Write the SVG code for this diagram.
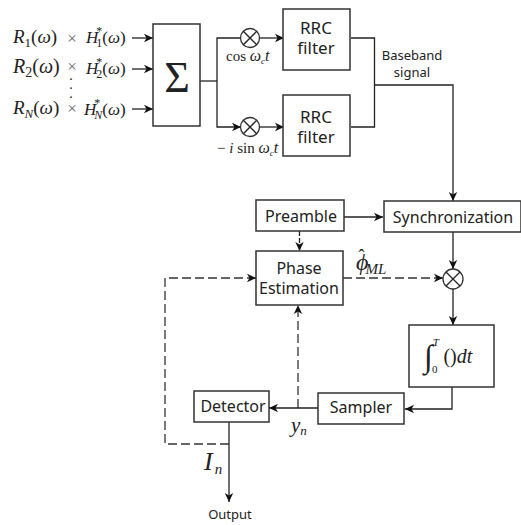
<svg xmlns="http://www.w3.org/2000/svg" width="521" height="525" viewBox="0 0 521 525">
<defs>
<marker id="a" markerUnits="userSpaceOnUse" markerWidth="12" markerHeight="12" refX="9" refY="6" orient="auto"><path d="M0 1.800L9 6L0 10.200L2.500 6Z" fill="#111"/></marker>
</defs>
<style>
.b{fill:#fff;stroke:#333;stroke-width:1.5}
.c{fill:none;stroke:#222;stroke-width:1.3}
.d{fill:none;stroke:#333;stroke-width:1.3;stroke-dasharray:9 4}
.s{font-family:"Noto Sans","Open Sans",sans-serif;fill:#222;text-anchor:middle}
.m{font-family:"Liberation Serif",serif;fill:#222;font-style:italic}
.u{font-family:"Liberation Serif",serif;fill:#222}
.x{font-family:"Liberation Serif",serif;fill:#666;font-size:17px;text-anchor:middle}
.mx{fill:#fff;stroke:#333;stroke-width:1.3}
.n{font-style:normal}
</style>
<g id="connectors">
<path class="c" d="M132 38H153" marker-end="url(#a)"/>
<path class="c" d="M132 69H153" marker-end="url(#a)"/>
<path class="c" d="M132 109H153" marker-end="url(#a)"/>
<path class="c" d="M200 81H217"/>
<path class="c" d="M241 38H217V127H241" marker-end="url(#a)"/>
<path class="c" d="M260 38H284" marker-end="url(#a)"/>
<path class="c" d="M260 127H284" marker-end="url(#a)"/>
<path class="c" d="M351 38H374.500V127H351"/>
<path class="c" d="M374.500 85H453V201" marker-end="url(#a)"/>
<path class="c" d="M344 217H383" marker-end="url(#a)"/>
<path class="c" d="M299.500 231V251" marker-end="url(#a)" stroke-dasharray="5 2"/>
<path class="d" d="M343 278H443" marker-end="url(#a)"/>
<path class="c" d="M453 232V269" marker-end="url(#a)"/>
<path class="c" d="M453 289V325" marker-end="url(#a)"/>
<path class="d" d="M298 408V305" marker-end="url(#a)"/>
<path class="c" d="M452 387V409H405" marker-end="url(#a)"/>
<path class="c" d="M318 408H269" marker-end="url(#a)"/>
<path class="d" d="M229 444H165V278H256" marker-end="url(#a)"/>
<path class="c" d="M229 422V502" marker-end="url(#a)"/>
</g>
<g id="input-labels">
<text class="m" x="13" y="43" font-size="19">R<tspan class="n" font-size="13" dy="4">1</tspan><tspan class="n" dy="-4">(</tspan>ω<tspan class="n">)</tspan></text>
<text class="x" x="72" y="44">×</text>
<text class="m" x="86" y="43" font-size="17">H<tspan class="n" font-size="12" dx="-2" dy="-8">*</tspan><tspan class="n" font-size="12" dx="-6" dy="12">1</tspan><tspan class="n" dy="-4">(</tspan>ω<tspan class="n">)</tspan></text>
<text class="m" x="13" y="73" font-size="20">R<tspan class="n" font-size="14" dy="4">2</tspan><tspan class="n" dy="-4">(</tspan>ω<tspan class="n">)</tspan></text>
<text class="x" x="72" y="72">×</text>
<text class="m" x="86" y="74" font-size="17">H<tspan class="n" font-size="12" dx="-2" dy="-8">*</tspan><tspan class="n" font-size="12" dx="-6" dy="12">2</tspan><tspan class="n" dy="-4">(</tspan>ω<tspan class="n">)</tspan></text>
<text x="71" y="98" font-family="Liberation Serif, serif" font-size="14" fill="#222" text-anchor="middle">.<tspan x="71" dy="-9">.</tspan><tspan x="71" dy="-9">.</tspan></text>
<text class="m" x="13" y="114" font-size="19">R<tspan font-size="13" dy="4">N</tspan><tspan class="n" dy="-4">(</tspan>ω<tspan class="n">)</tspan></text>
<text class="x" x="72" y="114">×</text>
<text class="m" x="84" y="115" font-size="17">H<tspan class="n" font-size="12" dx="-2" dy="-8">*</tspan><tspan font-size="12" dx="-6" dy="12">N</tspan><tspan class="n" dy="-4">(</tspan>ω<tspan class="n">)</tspan></text>
</g>
<g id="sum"><rect class="b" x="153" y="24" width="47" height="102"/><text class="u" x="177" y="92" font-size="44" text-anchor="middle">Σ</text></g>
<g id="mixer-cos"><circle class="mx" cx="250" cy="38" r="9.500"/><path class="c" d="M243.300 31.300L256.700 44.700M256.700 31.300L243.300 44.700"/></g>
<g id="mixer-sin"><circle class="mx" cx="250" cy="127" r="9.500"/><path class="c" d="M243.300 120.300L256.700 133.700M256.700 120.300L243.300 133.700"/></g>
<g id="cos-label"><text class="u" x="226" y="61" font-size="15">cos <tspan class="m" font-size="16">ω</tspan><tspan class="m" font-size="9" dy="3">c</tspan><tspan class="m" font-size="16" dy="-3">t</tspan></text></g>
<g id="sin-label"><text class="u" x="217" y="153" font-size="15">− <tspan class="m">i</tspan> sin <tspan class="m" font-size="16">ω</tspan><tspan class="m" font-size="9" dy="3">c</tspan><tspan class="m" font-size="16" dy="-3">t</tspan></text></g>
<g id="rrc1"><rect class="b" x="283" y="9" width="67" height="61"/><text class="s" x="316" y="34" font-size="17">RRC</text><text class="s" x="316" y="54" font-size="17">filter</text></g>
<g id="rrc2"><rect class="b" x="283" y="95" width="67" height="61"/><text class="s" x="316" y="123" font-size="17">RRC</text><text class="s" x="316" y="143" font-size="17">filter</text></g>
<g id="baseband"><text class="s" x="412" y="60" font-size="13">Baseband</text><text class="s" x="412" y="77" font-size="13">signal</text></g>
<g id="preamble"><rect class="b" x="256" y="200" width="88" height="31"/><text class="s" x="301" y="222" font-size="16">Preamble</text></g>
<g id="sync"><rect class="b" x="384" y="201" width="137" height="31"/><text class="s" x="453" y="223" font-size="16">Synchronization</text></g>
<g id="phase"><rect class="b" x="256" y="251" width="87" height="54"/><text class="s" x="299" y="274" font-size="16">Phase</text><text class="s" x="299" y="294" font-size="16">Estimation</text></g>
<g id="phi"><text class="m" x="356" y="270" font-size="24">ϕ<tspan class="n" font-size="18" dx="-10" dy="-8">ˆ</tspan><tspan font-size="15" dx="1" dy="12">ML</tspan></text></g>
<g id="mixer-rx"><circle class="mx" cx="453" cy="279" r="10"/><path class="c" d="M446 272L460 286M460 272L446 286"/></g>
<g id="integrator"><rect class="b" x="409" y="325" width="85" height="62"/><text class="m" x="424" y="367" font-size="32">∫<tspan font-size="11" dy="-21">T</tspan><tspan class="n" font-size="11" dx="-7" dy="27">0</tspan><tspan class="n" font-size="20" dx="6" dy="-10">()</tspan><tspan font-size="20">dt</tspan></text></g>
<g id="sampler"><rect class="b" x="318" y="393" width="86" height="31"/><text class="s" x="361" y="413" font-size="16">Sampler</text></g>
<g id="detector"><rect class="b" x="194" y="391" width="75" height="31"/><text class="s" x="233" y="412" font-size="16">Detector</text></g>
<g id="yn"><text class="m" x="291" y="432" font-size="21">y<tspan font-size="13" dy="3">n</tspan></text></g>
<g id="in"><text class="m" x="204" y="470" font-size="26">I<tspan font-size="15" dy="4" dx="2">n</tspan></text></g>
<g id="output"><text class="s" x="230" y="519" font-size="13">Output</text></g>
</svg>
